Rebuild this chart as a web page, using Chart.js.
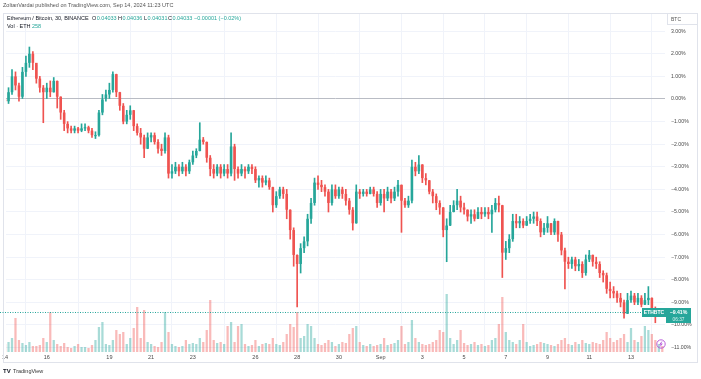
<!DOCTYPE html>
<html><head><meta charset="utf-8">
<script src="https://cdn.jsdelivr.net/npm/chart.js@4.4.1/dist/chart.umd.min.js"></script>
<style>html,body{margin:0;padding:0;background:#fff;}#wrap{position:relative;width:701px;height:379px;}</style>
</head><body><div id="wrap"><canvas id="c" width="701" height="379"></canvas></div>
<script>
// ---- data (percent change, 4-hour candles) ----
const firstOpen = 0.0;
const candlesPerDay = 6;
const closes = [
-0.1,0.3,1.0,0.6,0.1,1.2,1.6,2.0,1.6,0.9,
0.5,0.3,0.5,0.3,0.8,0.1,-0.6,-1.1,-1.3,-1.4,
-1.3,-1.4,-1.3,-1.25,-1.4,-1.6,-1.6,-0.6,0.0,0.2,
0.4,1.1,0.3,-0.3,-1.0,-0.7,-0.5,-1.2,-1.5,-1.7,
-2.2,-1.7,-1.6,-1.9,-2.2,-2.3,-1.7,-3.3,-3.2,-3.0,
-3.2,-3.0,-3.2,-2.8,-2.5,-2.3,-1.8,-1.9,-2.6,-3.1,
-3.3,-3.0,-3.3,-3.1,-3.3,-2.1,-3.1,-3.3,-3.1,-3.2,
-3.0,-3.1,-3.6,-3.5,-3.7,-3.6,-3.9,-4.7,-4.3,-4.0,
-4.2,-4.9,-5.8,-6.9,-7.3,-6.6,-6.3,-5.3,-4.6,-3.7,
-3.8,-3.9,-4.1,-4.6,-4.0,-4.3,-4.0,-4.2,-4.5,-4.9,
-5.5,-4.1,-4.2,-4.1,-4.2,-4.0,-4.2,-4.6,-4.2,-4.4,
-4.1,-4.4,-4.1,-3.8,-4.5,-4.7,-4.5,-3.0,-3.2,-2.9,
-3.5,-3.6,-4.1,-4.3,-4.6,-4.8,-5.8,-5.6,-5.0,-4.7,
-4.5,-4.8,-4.9,-5.2,-5.1,-5.3,-5.0,-5.1,-5.0,-5.1,
-4.9,-4.6,-4.7,-6.8,-6.6,-6.2,-5.4,-5.5,-5.4,-5.6,
-5.4,-5.3,-5.2,-5.4,-5.9,-5.7,-5.5,-5.9,-5.4,-6.0,
-6.7,-7.2,-7.3,-7.1,-7.4,-7.3,-7.7,-7.1,-6.9,-7.2,
-7.3,-7.7,-7.8,-8.4,-8.5,-8.6,-8.8,-9.0,-9.5,-8.9,
-8.7,-9.0,-8.8,-9.1,-8.9,-8.8,-9.3,-9.6,-9.4,-9.41];
const highs = [
0.4,0.5,1.3,1.2,0.7,1.4,1.9,2.3,2.1,1.5,
1.0,0.6,0.7,0.8,0.95,0.8,0.1,-0.5,-1.0,-1.2,
-1.2,-1.25,-1.1,-1.1,-1.2,-1.3,-1.45,-0.5,0.2,0.4,
0.7,1.2,1.1,0.3,-0.2,-0.5,-0.3,-0.5,-1.1,-1.3,
-1.6,-1.5,-1.5,-1.5,-1.8,-2.0,-1.5,-1.6,-2.9,-2.8,
-2.9,-2.8,-2.9,-2.7,-2.3,-2.2,-1.05,-1.7,-1.9,-2.5,
-2.9,-2.9,-2.9,-2.9,-2.9,-1.5,-2.0,-3.0,-2.9,-3.0,
-2.9,-2.9,-3.0,-3.4,-3.4,-3.4,-3.5,-3.9,-4.1,-3.9,
-3.9,-4.0,-4.9,-5.7,-6.9,-6.4,-6.1,-5.1,-4.4,-3.5,
-3.4,-3.6,-3.8,-4.0,-3.8,-3.8,-3.9,-3.9,-4.0,-4.4,
-4.8,-3.8,-4.0,-4.0,-4.0,-3.9,-3.9,-4.1,-4.0,-4.0,
-3.9,-4.0,-3.9,-3.6,-3.8,-4.4,-4.3,-2.7,-2.8,-2.5,
-2.9,-3.3,-3.6,-4.0,-4.2,-4.5,-4.8,-5.3,-4.7,-4.5,
-4.0,-4.3,-4.6,-4.9,-4.9,-4.9,-4.8,-4.8,-4.8,-4.8,
-4.7,-4.4,-4.3,-4.7,-6.3,-6.0,-5.1,-5.1,-5.2,-5.3,
-5.2,-5.1,-5.0,-5.0,-5.3,-5.5,-5.2,-5.5,-5.3,-5.4,
-5.9,-6.6,-7.0,-7.0,-7.0,-7.1,-7.2,-6.9,-6.7,-6.9,
-7.0,-7.2,-7.6,-7.7,-8.1,-8.3,-8.5,-8.6,-8.9,-8.6,
-8.5,-8.6,-8.6,-8.7,-8.6,-8.3,-8.8,-9.2,-9.3,-9.35];
const lows = [
-0.2,-0.2,0.2,0.4,-0.1,0.0,1.0,1.4,1.3,0.7,
0.3,-1.05,0.0,0.1,0.3,-0.4,-0.9,-1.4,-1.5,-1.5,
-1.5,-1.5,-1.45,-1.4,-1.5,-1.7,-1.75,-1.65,-0.7,-0.1,
0.0,0.3,0.1,-0.5,-1.1,-1.1,-0.9,-1.4,-1.6,-2.0,
-2.6,-2.2,-1.9,-2.0,-2.4,-2.5,-2.4,-3.5,-3.5,-3.3,
-3.4,-3.3,-3.4,-3.3,-2.9,-2.6,-2.3,-2.0,-2.8,-3.4,
-3.5,-3.4,-3.5,-3.4,-3.5,-3.4,-3.6,-3.5,-3.4,-3.5,
-3.3,-3.3,-3.7,-3.9,-3.9,-3.8,-4.0,-5.0,-4.8,-4.4,
-4.4,-5.3,-6.2,-7.4,-9.2,-7.7,-6.8,-6.5,-5.5,-4.7,
-4.0,-4.1,-4.3,-5.0,-4.7,-4.4,-4.4,-4.4,-4.7,-5.1,
-5.8,-5.5,-4.4,-4.3,-4.3,-4.2,-4.3,-4.8,-4.7,-5.0,
-4.5,-4.6,-4.5,-4.3,-5.9,-4.8,-4.8,-4.6,-3.4,-3.3,
-3.7,-3.8,-4.2,-4.6,-4.9,-5.1,-6.1,-7.2,-5.6,-5.0,
-4.9,-5.0,-5.1,-5.4,-5.5,-5.4,-5.3,-5.3,-5.2,-5.3,
-5.9,-5.0,-5.0,-7.9,-7.1,-6.8,-6.3,-5.7,-5.7,-5.7,
-5.6,-5.5,-5.5,-5.6,-6.1,-6.0,-5.9,-6.0,-6.0,-6.3,
-6.9,-8.4,-7.5,-7.5,-7.6,-7.6,-7.9,-7.8,-7.2,-7.4,
-7.5,-7.9,-8.1,-8.6,-8.8,-8.8,-9.0,-9.2,-9.7,-9.5,
-9.0,-9.1,-9.1,-9.2,-9.1,-9.1,-9.4,-9.9,-9.6,-9.5];
const volumes = [
2000,2500,3500,8500,3000,2250,1750,2500,1500,1500,
1750,3500,2500,10000,3000,2000,1500,2250,1250,1000,
1500,2000,1250,1250,1000,1750,3000,6250,7500,2000,
1750,3000,5500,4500,5000,2000,3500,6000,11250,3500,
10500,2500,2000,1500,1250,2500,10000,5000,2000,1500,
1250,1500,3000,2000,2250,2000,3500,2500,5500,13000,
3000,2250,2500,2000,6500,7500,2500,6500,7000,2000,
1500,1750,3000,1500,2000,2250,2000,3500,2000,1750,
2500,4500,7000,6250,10000,3500,4000,7000,6500,3500,
2000,1750,2250,3000,2500,1500,2000,2500,2250,4500,
6000,6500,2500,1750,1500,2000,1500,1750,2000,3500,
1750,2000,2250,3000,6500,2000,2500,8000,3500,2500,
2000,1750,2000,2500,3000,5500,5000,14500,3500,2000,
3000,5500,2250,1750,2000,2500,1750,2000,1500,1750,
3000,3500,7000,13750,5000,3000,2500,2000,3000,7000,
2500,1500,1750,2000,2500,2250,2000,1750,1500,2000,
3000,3500,2000,1750,2500,2000,3000,2250,2000,2500,
2250,2000,3000,5000,3500,2500,3000,3500,4500,2500,
6000,3000,2500,4000,6500,5500,4500,3000,2000,1500];
const dayTicks  = [0,2,5,7,9,12,14,16,18,20,22,24,26,28,30];
const dayLabels = ['14','16','19','21','23','26','28','30','Sep','3','5','7','9','11','13'];
const pctTicks  = [3,2,1,0,-1,-2,-3,-4,-5,-6,-7,-8,-9,-10,-11];
const lastPct = -9.41;
const legendVals = {O:'0.04033',H:'0.04036',L:'0.04031',C:'0.04033',chg:'\u22120.00001 (\u22120.02%)',vol:'258'};

// ---- styling ----
const UP='#26a69a', DOWN='#ef5350';
const UPV='rgba(38,166,154,0.4)', DOWNV='rgba(239,83,80,0.4)';
const FONT='"Liberation Sans", Arial, sans-serif';
const GRID='#f0f3fa';

const opens = closes.map((c,i)=> i===0 ? firstOpen : closes[i-1]);
const times = closes.map((c,i)=> i/candlesPerDay);
const isUp = closes.map((c,i)=> c >= opens[i]);

const bodyData = times.map((t,i)=>({x:t, y:[opens[i], closes[i]]}));
const wickData = times.map((t,i)=>({x:t, y:[lows[i], highs[i]]}));
const volData  = times.map((t,i)=>({x:t, y:volumes[i]}));

function fmtPct(v){ return (v<0?'\u2212':'') + Math.abs(v).toFixed(2) + '%'; }

const overlay = {
  id:'overlay',
  beforeDraw(chart){
    const ctx=chart.ctx; ctx.save(); ctx.fillStyle='#fff'; ctx.fillRect(0,0,chart.width,chart.height); ctx.restore();
  },
  afterDraw(chart){
    const ctx=chart.ctx, ca=chart.chartArea, ys=chart.scales.y;
    ctx.save();
    // header
    ctx.font='5.5px '+FONT; ctx.fillStyle='#555'; ctx.textBaseline='middle'; ctx.textAlign='left';
    ctx.fillText('ZoltanVardai published on TradingView.com, Sep 14, 2024 11:23 UTC',3,5.5);
    // frame
    ctx.strokeStyle='#e0e3eb'; ctx.lineWidth=1; ctx.strokeRect(3.5,13.5,694,349);
    // legend line 1
    ctx.font='5.5px '+FONT; ctx.fillStyle='#131722';
    ctx.fillText('Ethereum / Bitcoin, 30, BINANCE',7,18.5);
    const pairs=[['O',legendVals.O,92],['H',legendVals.H,118],['L',legendVals.L,144],['C',legendVals.C,168]];
    pairs.forEach(p=>{ ctx.fillStyle='#131722'; ctx.fillText(p[0],p[2],18.5); const w=ctx.measureText(p[0]).width; ctx.fillStyle=UP; ctx.fillText(p[1],p[2]+w+0.5,18.5); });
    ctx.fillStyle=UP; ctx.fillText(legendVals.chg,194,18.5);
    ctx.fillStyle='#131722'; ctx.fillText('Vol \u00b7 ETH',7,26.5);
    ctx.fillStyle=UP; ctx.fillText(legendVals.vol,32,26.5);
    // BTC box
    ctx.fillStyle='#fff'; ctx.fillRect(667,13.5,31,11.5);
    ctx.strokeStyle='#e0e3eb'; ctx.strokeRect(667.5,13.5,30,11);
    ctx.fillStyle='#555'; ctx.font='5px '+FONT; ctx.fillText('BTC',671,19.5);
    // last price dotted line
    const py=Math.round(ys.getPixelForValue(lastPct))+0.5;
    ctx.strokeStyle=UP; ctx.setLineDash([1,1.5]); ctx.beginPath(); ctx.moveTo(0,py); ctx.lineTo(ca.right,py); ctx.stroke(); ctx.setLineDash([]);
    // ETHBTC tag
    ctx.fillStyle=UP; ctx.fillRect(642,py-4.5,24,9);
    ctx.fillStyle='#fff'; ctx.font='bold 5px '+FONT; ctx.textAlign='center'; ctx.fillText('ETHBTC',654,py);
    // right price box
    ctx.fillStyle=UP; ctx.fillRect(666,py-4.5,25,15);
    ctx.fillStyle='#fff'; ctx.font='bold 5.2px '+FONT; ctx.fillText(fmtPct(lastPct),678.5,py);
    ctx.fillStyle='#d9f2ef'; ctx.font='4.8px '+FONT; ctx.fillText('06:37',678.5,py+7);
    // purple icon
    ctx.strokeStyle='#b24fd6'; ctx.lineWidth=0.9; ctx.beginPath(); ctx.arc(661,344,4.2,0,Math.PI*2); ctx.stroke();
    ctx.beginPath(); ctx.moveTo(662,341.5); ctx.lineTo(659.8,344.4); ctx.lineTo(662.2,343.8); ctx.lineTo(660,346.6); ctx.stroke();
    // TradingView logo
    ctx.textAlign='left'; ctx.fillStyle='#131722'; ctx.font='bold 6px '+FONT; ctx.fillText('TV',3,371.5);
    ctx.font='5.5px '+FONT; ctx.fillStyle='#333'; ctx.fillText('TradingView',13,371.5);
    ctx.restore();
  }
};

new Chart(document.getElementById('c'), {
  data:{
    datasets:[
      {type:'bar', label:'Vol', data:volData, yAxisID:'yv', order:3, grouped:false,
       backgroundColor: isUp.map(u=>u?UPV:DOWNV), barPercentage:0.65, categoryPercentage:1},
      {type:'bar', label:'Wick', data:wickData, yAxisID:'y', order:2, grouped:false,
       backgroundColor: isUp.map(u=>u?UP:DOWN), barThickness:1},
      {type:'bar', label:'Body', data:bodyData, yAxisID:'y', order:1, grouped:false,
       backgroundColor: isUp.map(u=>u?UP:DOWN), barPercentage:0.75, categoryPercentage:1, minBarLength:1}
    ]
  },
  options:{
    responsive:false, animation:false, events:[],
    layout:{padding:{top:14,left:3,right:0,bottom:17}},
    plugins:{legend:{display:false}, tooltip:{enabled:false}},
    scales:{
      x:{type:'linear', min:0.043, max:31.63, offset:false,
         afterBuildTicks(s){ s.ticks = dayTicks.map(v=>({value:v})); },
         afterFit(s){ s.height=10; },
         grid:{color:GRID, drawTicks:false}, border:{display:false},
         ticks:{autoSkip:false, maxRotation:0, padding:2, color:'#4a4a4a', font:{size:5.5, family:FONT},
                callback:(v)=>{ const k=dayTicks.indexOf(v); return k>=0?dayLabels[k]:''; }}},
      y:{type:'linear', position:'right', min:-11.195, max:3.761,
         afterBuildTicks(s){ s.ticks = pctTicks.map(v=>({value:v})); },
         afterFit(s){ s.width=36; },
         grid:{color:(c)=> c.tick && c.tick.value===0 ? '#b9bcc4' : GRID, drawTicks:false}, border:{display:false},
         ticks:{autoSkip:false, padding:6, color:'#4a4a4a', font:{size:5.2, family:FONT}, callback:(v)=>fmtPct(v)}},
      yv:{type:'linear', display:false, min:0, max:84500}
    }
  },
  plugins:[overlay]
});
</script></body></html>
